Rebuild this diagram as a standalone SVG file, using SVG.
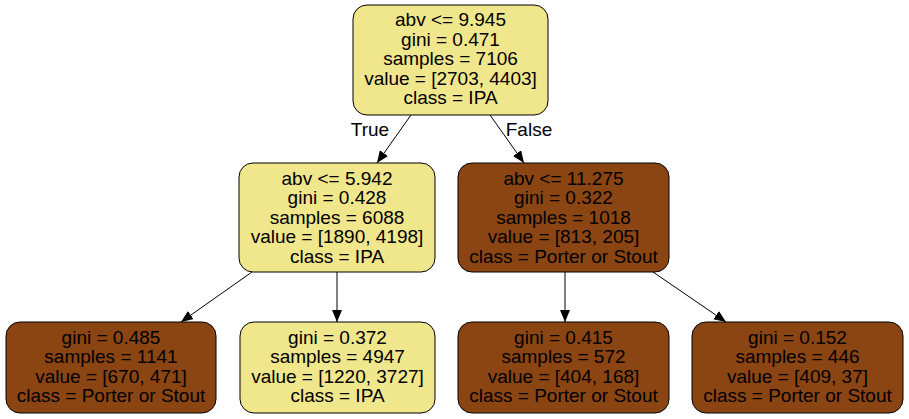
<svg xmlns="http://www.w3.org/2000/svg" width="909" height="419" viewBox="0 0 909 419">
<style>
.n rect{stroke:#000;stroke-width:1}
.y rect{fill:#f0e68c}
.b rect{fill:#8b4513}
text{font-family:"Liberation Sans",Arial,Helvetica,sans-serif;font-size:19px;fill:#000;text-anchor:middle}
.e line{stroke:#000;stroke-width:1;marker-end:url(#ah)}
</style>
<defs>
<marker id="ah" markerUnits="userSpaceOnUse" markerWidth="13" markerHeight="11" refX="12" refY="5" orient="auto">
<path d="M0,0 L12,5 L0,10 z" fill="#000"/>
</marker>
</defs>
<rect width="909" height="419" fill="#fff"/>
<g id="edges" class="e">
<line x1="411" y1="115" x2="377" y2="163"/>
<line x1="490" y1="115" x2="524" y2="163"/>
<line x1="252" y1="272" x2="181" y2="322"/>
<line x1="337" y1="272" x2="337" y2="322"/>
<line x1="565" y1="272" x2="565" y2="322"/>
<line x1="653" y1="272" x2="726" y2="322"/>
<text x="370" y="136">True</text>
<text x="529" y="136">False</text>
</g>
<g id="node0" class="n y">
<rect x="353" y="5" width="195" height="110" rx="14"/>
<text x="450.5" y="26">abv &lt;= 9.945</text>
<text x="450.5" y="45.5">gini = 0.471</text>
<text x="450.5" y="65">samples = 7106</text>
<text x="450.5" y="84.5">value = [2703, 4403]</text>
<text x="450.5" y="104">class = IPA</text>
</g>
<g id="node1" class="n y">
<rect x="239" y="163" width="196" height="109" rx="14"/>
<text x="337" y="184.5">abv &lt;= 5.942</text>
<text x="337" y="204">gini = 0.428</text>
<text x="337" y="223.5">samples = 6088</text>
<text x="337" y="243">value = [1890, 4198]</text>
<text x="337" y="262.5">class = IPA</text>
</g>
<g id="node4" class="n b">
<rect x="458" y="163" width="211" height="109" rx="14"/>
<text x="563.5" y="184.5">abv &lt;= 11.275</text>
<text x="563.5" y="204">gini = 0.322</text>
<text x="563.5" y="223.5">samples = 1018</text>
<text x="563.5" y="243">value = [813, 205]</text>
<text x="563.5" y="262.5">class = Porter or Stout</text>
</g>
<g id="node2" class="n b">
<rect x="6" y="322" width="210" height="91" rx="14"/>
<text x="111" y="343.5">gini = 0.485</text>
<text x="111" y="363">samples = 1141</text>
<text x="111" y="382.5">value = [670, 471]</text>
<text x="111" y="402">class = Porter or Stout</text>
</g>
<g id="node3" class="n y">
<rect x="240" y="322" width="195" height="91" rx="14"/>
<text x="337.5" y="343.5">gini = 0.372</text>
<text x="337.5" y="363">samples = 4947</text>
<text x="337.5" y="382.5">value = [1220, 3727]</text>
<text x="337.5" y="402">class = IPA</text>
</g>
<g id="node5" class="n b">
<rect x="458" y="322" width="211" height="91" rx="14"/>
<text x="563.5" y="343.5">gini = 0.415</text>
<text x="563.5" y="363">samples = 572</text>
<text x="563.5" y="382.5">value = [404, 168]</text>
<text x="563.5" y="402">class = Porter or Stout</text>
</g>
<g id="node6" class="n b">
<rect x="692" y="322" width="211" height="91" rx="14"/>
<text x="797.5" y="343.5">gini = 0.152</text>
<text x="797.5" y="363">samples = 446</text>
<text x="797.5" y="382.5">value = [409, 37]</text>
<text x="797.5" y="402">class = Porter or Stout</text>
</g>
</svg>
